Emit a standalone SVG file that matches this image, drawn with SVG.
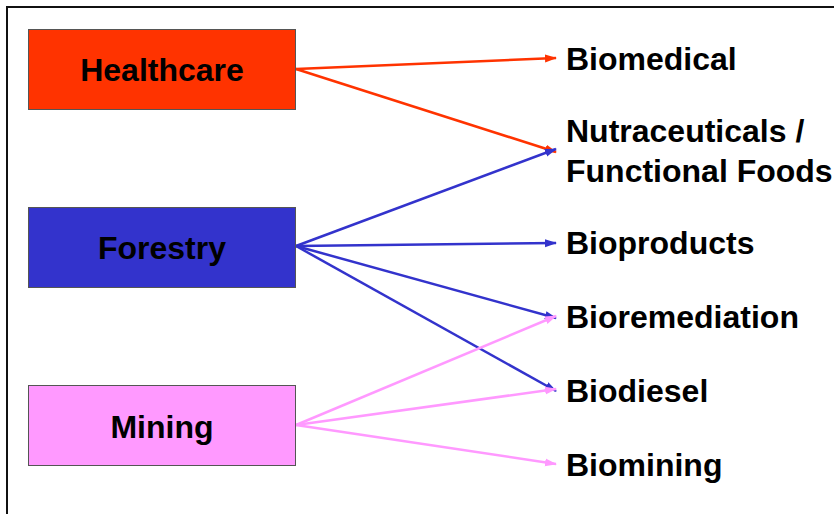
<svg xmlns="http://www.w3.org/2000/svg" width="834" height="514" viewBox="0 0 834 514">
<defs>
<style>
.lbl{font-family:"Liberation Sans",Arial,sans-serif;font-weight:bold;font-size:32px;fill:#000}
.box{stroke:#555;stroke-width:1}
.c{fill:none;stroke-width:2.5}
.r{stroke:#FF3300}.b{stroke:#3333CC}.p{stroke:#FF99FF}
</style>
<marker id="ar" markerWidth="12" markerHeight="10" refX="11" refY="5" orient="auto" markerUnits="userSpaceOnUse"><path d="M0,1 L12,5 L0,9 Z" fill="#FF3300"/></marker>
<marker id="ab" markerWidth="12" markerHeight="10" refX="11" refY="5" orient="auto" markerUnits="userSpaceOnUse"><path d="M0,1 L12,5 L0,9 Z" fill="#3333CC"/></marker>
<marker id="ap" markerWidth="12" markerHeight="10" refX="11" refY="5" orient="auto" markerUnits="userSpaceOnUse"><path d="M0,1 L12,5 L0,9 Z" fill="#FF99FF"/></marker>
</defs>
<rect width="834" height="514" fill="#fff"/>
<path d="M7,520 V7 H840" fill="none" stroke="#111" stroke-width="2"/>
<g id="connectors">
<line class="c r" x1="296" y1="69" x2="556" y2="58" marker-end="url(#ar)"/>
<line class="c r" x1="296" y1="69" x2="556" y2="152" marker-end="url(#ar)"/>
<line class="c b" x1="296" y1="246" x2="556" y2="149" marker-end="url(#ab)"/>
<line class="c b" x1="296" y1="246" x2="556" y2="243" marker-end="url(#ab)"/>
<line class="c b" x1="296" y1="246" x2="556" y2="318" marker-end="url(#ab)"/>
<line class="c b" x1="296" y1="246" x2="556" y2="391" marker-end="url(#ab)"/>
<line class="c p" x1="296" y1="425" x2="556" y2="316" marker-end="url(#ap)"/>
<line class="c p" x1="296" y1="425" x2="556" y2="389" marker-end="url(#ap)"/>
<line class="c p" x1="296" y1="425" x2="556" y2="464" marker-end="url(#ap)"/>
</g>
<g id="healthcare"><rect class="box" x="28.5" y="29.5" width="267" height="80" fill="#FF3300"/><text class="lbl" x="162" y="81" text-anchor="middle">Healthcare</text></g>
<g id="forestry"><rect class="box" x="28.5" y="207.5" width="267" height="80" fill="#3333CC"/><text class="lbl" x="162" y="259" text-anchor="middle">Forestry</text></g>
<g id="mining"><rect class="box" x="28.5" y="385.5" width="267" height="80" fill="#FF99FF"/><text class="lbl" x="162" y="438" text-anchor="middle">Mining</text></g>
<g id="biomedical"><text class="lbl" x="566" y="70">Biomedical</text></g>
<g id="nutraceuticals"><text class="lbl" x="566" y="142">Nutraceuticals /</text><text class="lbl" x="566" y="182">Functional Foods</text></g>
<g id="bioproducts"><text class="lbl" x="566" y="254">Bioproducts</text></g>
<g id="bioremediation"><text class="lbl" x="566" y="328">Bioremediation</text></g>
<g id="biodiesel"><text class="lbl" x="566" y="402">Biodiesel</text></g>
<g id="biomining"><text class="lbl" x="566" y="476">Biomining</text></g>
</svg>
